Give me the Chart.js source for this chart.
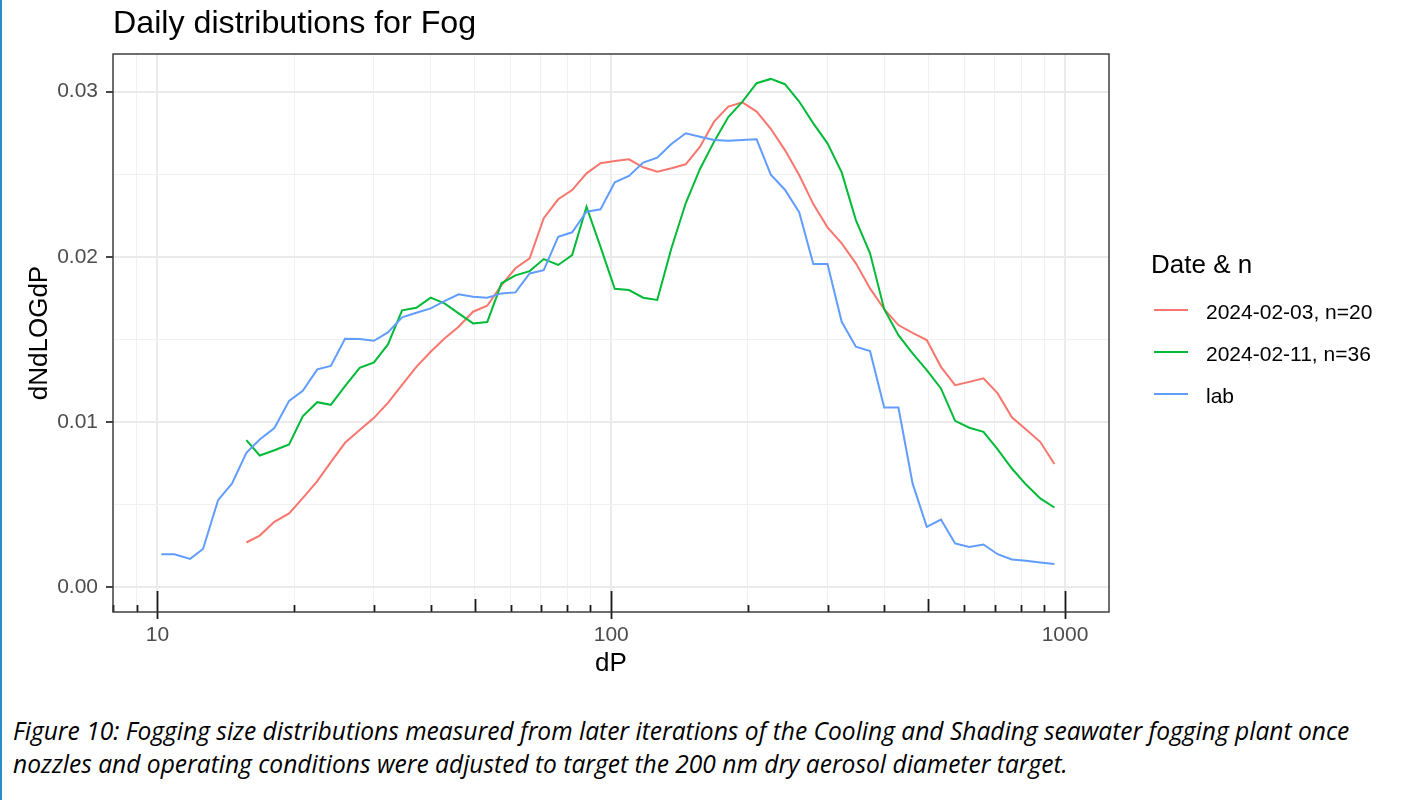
<!DOCTYPE html>
<html>
<head>
<meta charset="utf-8">
<script src="https://cdn.jsdelivr.net/npm/chart.js@4.4.1/dist/chart.umd.min.js"></script>
<style>
  html, body { margin: 0; padding: 0; background: #fff; }
  body { width: 1407px; height: 800px; position: relative; overflow: hidden; font-family: "Liberation Sans", Arial, sans-serif; }
  #edge { position: absolute; left: 0; top: 0; width: 2px; height: 800px; background: #2a8ec6; }
  #wrap { position: absolute; left: 0; top: 0; width: 1407px; height: 700px; }
  #title { position: absolute; left: 113px; top: 6px; font-size: 32.2px; line-height: 1; color: #000; white-space: nowrap; }
  #legend-title { position: absolute; left: 1151px; top: 251.3px; font-size: 26px; line-height: 1; color: #000; white-space: nowrap; }
  .key { position: absolute; left: 1154px; width: 34px; height: 2px; }
  .key-label { position: absolute; left: 1206px; font-size: 21px; line-height: 1; color: #000; white-space: nowrap; }
  .caption { position: absolute; left: 13px; font-family: "Open Sans", sans-serif; font-style: italic; line-height: 1; color: #000; white-space: nowrap; }
</style>
</head>
<body>
<div id="edge"></div>
<div id="wrap"><canvas id="chart" width="1407" height="700"></canvas></div>
<div id="title">Daily distributions for Fog</div>
<div id="legend"></div>
<div class="caption" id="cap1">Figure 10: Fogging size distributions measured from later iterations of the Cooling and Shading seawater fogging plant once</div>
<div class="caption" id="cap2">nozzles and operating conditions were adjusted to target the 200 nm dry aerosol diameter target.</div>
<script>
// particle diameter channels (nm)
const dP = [10.2, 10.9, 11.8, 12.6, 13.6, 14.6, 15.7, 16.8, 18.1, 19.5, 20.9, 22.5, 24.1, 25.9, 27.9, 30.0,
    32.2, 34.6, 37.2, 40.0, 42.9, 46.1, 49.6, 53.3, 57.3, 61.5, 66.1, 71.0, 76.4, 82.0, 88.2, 94.7,
    101.8, 109.4, 117.6, 126.3, 135.7, 145.9, 156.8, 168.5, 181.1, 194.6, 209.1, 224.7, 241.4, 259.5, 278.8, 299.6,
    322.0, 346.0, 371.8, 399.5, 429.4, 461.4, 495.8, 532.8, 572.5, 615.3, 661.2, 710.5, 763.5, 820.5, 881.7, 947.5];

const feb03 = [null, null, null, null, null, null,
    0.00269, 0.00311, 0.00394, 0.00445, 0.00538, 0.00641, 0.00756, 0.00873, 0.00950, 0.01024,
    0.01115, 0.01224, 0.01333, 0.01424, 0.01505, 0.01576, 0.01667, 0.01703, 0.01828, 0.01930,
    0.01990, 0.02233, 0.02348, 0.02404, 0.02505, 0.02566, 0.02580, 0.02590, 0.02542, 0.02515,
    0.02536, 0.02560, 0.02665, 0.02818, 0.02909, 0.02935, 0.02879, 0.02775, 0.02646, 0.02495,
    0.02319, 0.02178, 0.02081, 0.01960, 0.01808, 0.01682, 0.01586, 0.01539, 0.01495, 0.01333,
    0.01222, 0.01242, 0.01263, 0.01172, 0.01027, 0.00954, 0.00879, 0.00744];

const feb11 = [null, null, null, null, null, null,
    0.00889, 0.00796, 0.00828, 0.00863, 0.01033, 0.01119, 0.01103, 0.01216, 0.01327, 0.01360,
    0.01469, 0.01675, 0.01691, 0.01752, 0.01717, 0.01657, 0.01596, 0.01604, 0.01839, 0.01887,
    0.01913, 0.01986, 0.01950, 0.02010, 0.02303, 0.02060, 0.01806, 0.01798, 0.01752, 0.01738,
    0.02051, 0.02324, 0.02530, 0.02697, 0.02846, 0.02939, 0.03051, 0.03077, 0.03045, 0.02940,
    0.02808, 0.02687, 0.02511, 0.02222, 0.02021, 0.01682, 0.01525, 0.01414, 0.01313, 0.01202,
    0.01006, 0.00964, 0.00939, 0.00833, 0.00717, 0.00620, 0.00536, 0.00481];

const lab = [0.00198, 0.00198, 0.00170, 0.00230, 0.00525, 0.00627, 0.00812, 0.00893, 0.00962, 0.01127,
    0.01188, 0.01318, 0.01339, 0.01503, 0.01501, 0.01491, 0.01542, 0.01633, 0.01661, 0.01687,
    0.01731, 0.01772, 0.01758, 0.01752, 0.01778, 0.01784, 0.01899, 0.01919, 0.02121, 0.02148,
    0.02273, 0.02287, 0.02451, 0.02489, 0.02570, 0.02600, 0.02683, 0.02748, 0.02727, 0.02707,
    0.02703, 0.02707, 0.02711, 0.02497, 0.02406, 0.02270, 0.01956, 0.01956, 0.01606, 0.01455,
    0.01428, 0.01087, 0.01087, 0.00627, 0.00364, 0.00408, 0.00263, 0.00242, 0.00257, 0.00198,
    0.00166, 0.00158, 0.00148, 0.00139];

const seriesNames = ['2024-02-03, n=20', '2024-02-11, n=36', 'lab'];
const seriesColors = ['#F8766D', '#00BA38', '#619CFF'];

const xGridValues = [8, 9, 10, 20, 30, 40, 50, 60, 70, 80, 90, 100, 200, 300, 400, 500, 600, 700, 800, 900, 1000];
const xTickLabels = [10, 100, 1000];
const xMidTicks = [50, 500];
const yGridValues = [0, 0.005, 0.01, 0.015, 0.02, 0.025, 0.03];
const yTickLabels = [0, 0.01, 0.02, 0.03];

const FONT = '"Liberation Sans", Arial, sans-serif';

// panel border + annotation_logticks style marks
const panelPlugin = {
    id: 'panel',
    afterDraw(chart) {
        const { ctx, chartArea: a } = chart;
        const xs = chart.scales.x;
        ctx.save();
        ctx.strokeStyle = '#1a1a1a';
        ctx.lineWidth = 1.8;
        xGridValues.forEach(v => {
            const px = Math.round(xs.getPixelForValue(v)) + 0.5;
            let up = 7, down = 0;
            if (xTickLabels.includes(v)) { up = 21; down = 7; }
            else if (xMidTicks.includes(v)) { up = 13; }
            ctx.beginPath();
            ctx.moveTo(px, a.bottom - up);
            ctx.lineTo(px, a.bottom + down);
            ctx.stroke();
        });
        ctx.strokeStyle = '#333333';
        ctx.lineWidth = 1.4;
        ctx.strokeRect(a.left, a.top, a.right - a.left, a.bottom - a.top);
        ctx.restore();
    }
};

const series = [feb03, feb11, lab];
const datasets = series.map((vals, k) => ({
    label: seriesNames[k],
    data: dP.map((x, i) => ({ x, y: vals[i] })),
    borderColor: seriesColors[k],
    backgroundColor: seriesColors[k],
    order: 3 - k
}));

new Chart(document.getElementById('chart'), {
    type: 'line',
    data: { datasets },
    options: {
        responsive: false,
        animation: false,
        layout: { padding: { left: 0, top: 54, right: 298, bottom: 13 } },
        plugins: { legend: { display: false }, tooltip: { enabled: false } },
        elements: { point: { radius: 0 }, line: { borderWidth: 2, tension: 0 } },
        scales: {
            x: {
                type: 'logarithmic',
                bounds: 'data',
                min: 7.98,
                max: 1250,
                afterBuildTicks: s => { s.ticks = xGridValues.map(v => ({ value: v })); },
                afterFit: s => { s.height = 75; },
                border: { display: false },
                grid: {
                    drawTicks: false,
                    color: c => xTickLabels.includes(c.tick && c.tick.value) ? '#ebebeb' : '#f1f1f1',
                    lineWidth: c => xTickLabels.includes(c.tick && c.tick.value) ? 2 : 1
                },
                ticks: {
                    autoSkip: false,
                    maxRotation: 0,
                    padding: 11,
                    color: '#4d4d4d',
                    font: { family: FONT, size: 21 },
                    callback: v => xTickLabels.includes(v) ? String(v) : ''
                },
                title: {
                    display: true,
                    text: 'dP',
                    color: '#000',
                    font: { family: FONT, size: 26, lineHeight: 1 },
                    padding: { top: 0, bottom: 10 }
                }
            },
            y: {
                type: 'linear',
                bounds: 'data',
                min: -0.00152,
                max: 0.03228,
                afterBuildTicks: s => { s.ticks = yGridValues.map(v => ({ value: v })); },
                afterFit: s => { s.width = 113; },
                border: { display: false },
                grid: {
                    color: c => yTickLabels.includes(c.tick && c.tick.value) ? '#ebebeb' : '#f1f1f1',
                    lineWidth: c => yTickLabels.includes(c.tick && c.tick.value) ? 2 : 1,
                    tickColor: c => yTickLabels.includes(c.tick && c.tick.value) ? '#333333' : 'rgba(0,0,0,0)',
                    tickWidth: 1.8,
                    tickLength: 7
                },
                ticks: {
                    autoSkip: false,
                    padding: 8,
                    color: '#4d4d4d',
                    font: { family: FONT, size: 21 },
                    callback: v => yTickLabels.includes(v) ? v.toFixed(2) : ''
                },
                title: {
                    display: true,
                    text: 'dNdLOGdP',
                    color: '#000',
                    font: { family: FONT, size: 26, lineHeight: 1 },
                    padding: { top: 27, bottom: 0 }
                }
            }
        }
    },
    plugins: [panelPlugin]
});

// legend
const legend = document.getElementById('legend');
legend.innerHTML = '<div id="legend-title">Date &amp; n</div>';
const keyY = [310, 352, 394];
seriesNames.forEach((name, k) => {
    const key = document.createElement('div');
    key.className = 'key';
    key.style.top = (keyY[k] - 1) + 'px';
    key.style.background = seriesColors[k];
    legend.appendChild(key);
    const lbl = document.createElement('div');
    lbl.className = 'key-label';
    lbl.style.top = (keyY[k] + 8.3 - 17.8) + 'px';
    lbl.textContent = name;
    legend.appendChild(lbl);
});

// caption: fit first line to the reference width
const cap1 = document.getElementById('cap1');
const cap2 = document.getElementById('cap2');
const mctx = document.createElement('canvas').getContext('2d');
mctx.font = 'italic 20px "Open Sans"';
const capSize = 20 * 1337 / mctx.measureText(cap1.textContent).width;
[cap1, cap2].forEach((el, i) => {
    el.style.fontSize = capSize + 'px';
    el.style.top = (741 + i * 33 - 0.888 * capSize) + 'px';
});
</script>
</body>
</html>
